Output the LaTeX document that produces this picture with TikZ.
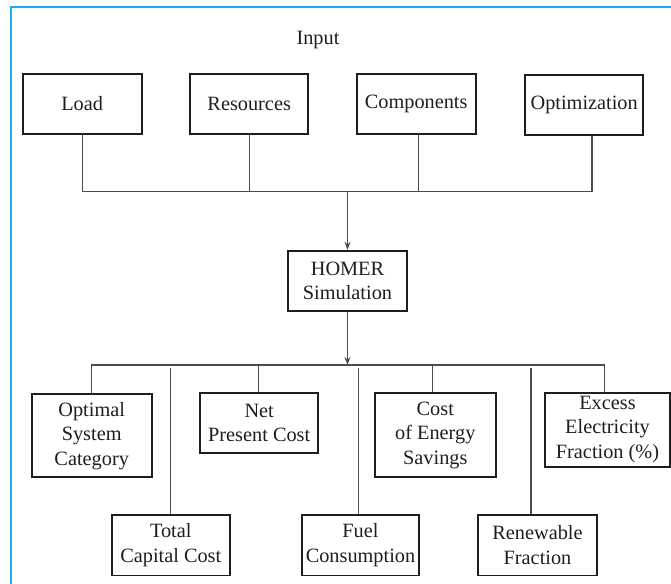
\documentclass[tikz,border=0pt]{standalone}
\usepackage{fontspec}
\setmainfont{Liberation Serif}
\usetikzlibrary{arrows.meta}
\definecolor{frameblue}{RGB}{27,172,238}
\definecolor{txt}{RGB}{30,30,30}
\begin{document}
\begin{tikzpicture}[x=1pt,y=-1pt,
  box/.style={draw=txt,line width=1.8pt,inner sep=0pt,align=center,text=txt,
    font=\fontsize{20.3}{24.5}\selectfont},
  conn/.style={draw=black!70,line width=1.1pt},
  arr/.style={conn,-{Stealth[length=8pt,width=6pt]}},
  lbl/.style={text=txt,font=\fontsize{20.3}{24.5}\selectfont,inner sep=0pt}]
\useasboundingbox (0,0) rectangle (671,583);
% frame
\draw[frameblue,line width=1.4pt] (11,590) -- (11,7) -- (680,7);
% title
\node[lbl] (input) at (318,40) {Input};
% inputs
\node[box,minimum width=119pt,minimum height=60pt] (load) at (82.2,104) {Load};
\node[box,minimum width=118pt,minimum height=60pt] (res) at (249.2,104) {Resources};
\node[box,minimum width=119pt,minimum height=60pt] (comp) at (416.2,104) {Components};
\node[box,minimum width=118pt,minimum height=60pt] (opt) at (584.2,105) {Optimization};
% simulation
\node[box,minimum width=118.4pt,minimum height=60pt] (homer) at (347.5,280.7) {HOMER\\Simulation};
% outputs (upper)
\node[box,minimum width=120pt,minimum height=83.3pt] (osc) at (91.7,435.7) {Optimal\\System\\Category};
\node[box,minimum width=118.3pt,minimum height=59.4pt] (npc) at (259.2,423) {Net\\Present Cost};
\node[box,minimum width=120.7pt,minimum height=84pt] (coe) at (435.3,435.3) {Cost\\of Energy\\Savings};
\node[box,minimum width=125pt,minimum height=73.4pt,text depth=6pt] (exc) at (607.5,430) {Excess\\Electricity\\Fraction (\%)};
% outputs (lower)
\node[box,minimum width=118.3pt,minimum height=60.5pt] (tcc) at (170.8,545.2) {Total\\Capital Cost};
\node[box,minimum width=117.6pt,minimum height=60.5pt] (fuel) at (360.5,545.2) {Fuel\\Consumption};
\node[box,minimum width=118.4pt,minimum height=60.5pt] (ren) at (537.5,545.2) {Renewable\\Fraction};
% helper coordinates
\coordinate (busT) at (0,191.7);
\coordinate (xc) at (418.3,0);
\coordinate (xo) at (592,0);
\coordinate (busB) at (0,365);
\coordinate (busBs) at (0,367.5);
\coordinate (xnpc) at (258.3,0);
\coordinate (xcoe) at (432.7,0);
\coordinate (xexc) at (604.3,0);
\coordinate (xfuel) at (358.3,0);
\coordinate (xren) at (531,0);
% input bus
\draw[conn] (load.south) -- (load.south |- busT) -- (xo |- busT) -- (xo |- opt.south);
\draw[conn] (res.south) -- (res.south |- busT);
\draw[conn] (xc |- comp.south) -- (xc |- busT);
\draw[arr] (homer.north |- busT) -- (homer.north);
% output bus
\draw[arr] (homer.south) -- (homer.south |- busB);
\draw[conn] (osc.north) -- (osc.north |- busB) -- (xexc |- busB) -- (xexc |- exc.north);
\draw[conn] (xnpc |- npc.north) -- (xnpc |- busB);
\draw[conn] (xcoe |- coe.north) -- (xcoe |- busB);
\draw[conn] (tcc.north) -- (tcc.north |- busBs);
\draw[conn] (xfuel |- fuel.north) -- (xfuel |- busBs);
\draw[conn] (xren |- ren.north) -- (xren |- busBs);
\end{tikzpicture}
\end{document}
